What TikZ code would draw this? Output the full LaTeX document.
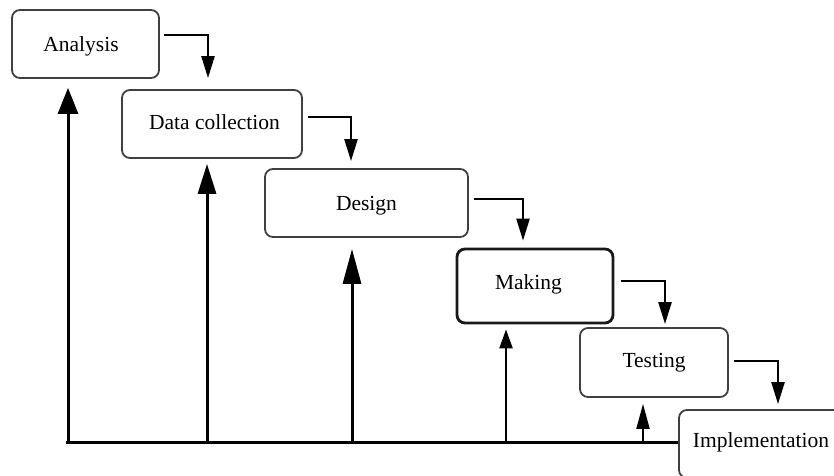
\documentclass[tikz,border=0pt]{standalone}
\usepackage{fontspec}
\setmainfont{Liberation Serif}
\usetikzlibrary{arrows.meta,calc}
\begin{document}
\begin{tikzpicture}[x=1pt,y=-1pt,
  box/.style={draw=black!75, line width=1.8pt, rounded corners=8pt, inner sep=0pt,
    font=\fontsize{21.5}{24}\selectfont, text height=14pt},
  fwd/.style={line width=2.4pt, -{Triangle[length=22pt,width=13pt]}},
  back/.style={line width=3pt},
]
\useasboundingbox (0,0) rectangle (834,475);
\begin{scope}
\clip (0,0) rectangle (834,475);
\node[box, minimum width=147pt, minimum height=68pt, text depth=-2pt] (A) at (85.5,44) {\hspace*{-9pt}Analysis};
\node[box, minimum width=180pt, minimum height=68pt, text depth=4pt] (D) at (212,124) {\hspace*{5pt}Data collection};
\node[box, minimum width=203pt, minimum height=68pt, text depth=0pt] (G) at (366.5,203) {Design};
\node[box, draw=black!90, line width=2.8pt, minimum width=156pt, minimum height=74pt, text depth=8pt] (M) at (535,286) {\hspace*{-13pt}Making};
\node[box, minimum width=148pt, minimum height=69pt, text depth=5pt] (T) at (654,362.5) {Testing};
\node[box, minimum width=164pt, minimum height=68pt, text depth=8pt] (I) at (761,444) {Implementation};

\draw[fwd] ($(A.east)+(4,-9)$) -| ($(D.north)+(-4,-11)$);
\draw[fwd] ($(D.east)+(5,-7)$) -| ($(G.north)+(-15.5,-7)$);
\draw[fwd] ($(G.east)+(5,-4)$) -| ($(M.north)+(-12,-7)$);
\draw[fwd] ($(M.east)+(7,-5)$) -| ($(T.north)+(11,-3)$);
\draw[fwd] ($(T.east)+(5,-1.5)$) -| ($(I.north)+(17,-5)$);

\coordinate (c0) at (66,442);
\coordinate (f1) at (68,442);
\coordinate (f2) at (207,442);
\coordinate (f3) at (352,442);
\coordinate (f4) at (506,442);
\coordinate (f5) at (643,442);
\draw[back] (c0) -- (c0 -| I.west);
\draw[back, -{Triangle[length=26pt,width=20pt]}] (f1) -- ($(f1 |- A.south)+(0,9)$);
\draw[back, -{Triangle[length=30pt,width=18pt]}] (f2) -- ($(f2 |- D.south)+(0,5)$);
\draw[back, -{Triangle[length=35pt,width=18pt]}] (f3) -- ($(f3 |- G.south)+(0,11)$);
\draw[line width=2.3pt, -{Triangle[length=19pt,width=13pt]}] (f4) -- ($(f4 |- M.south)+(0,5)$);
\draw[line width=2pt, -{Triangle[length=25pt,width=13pt]}] (f5) -- ($(f5 |- T.south)+(0,6)$);
\end{scope}
\end{tikzpicture}
\end{document}
